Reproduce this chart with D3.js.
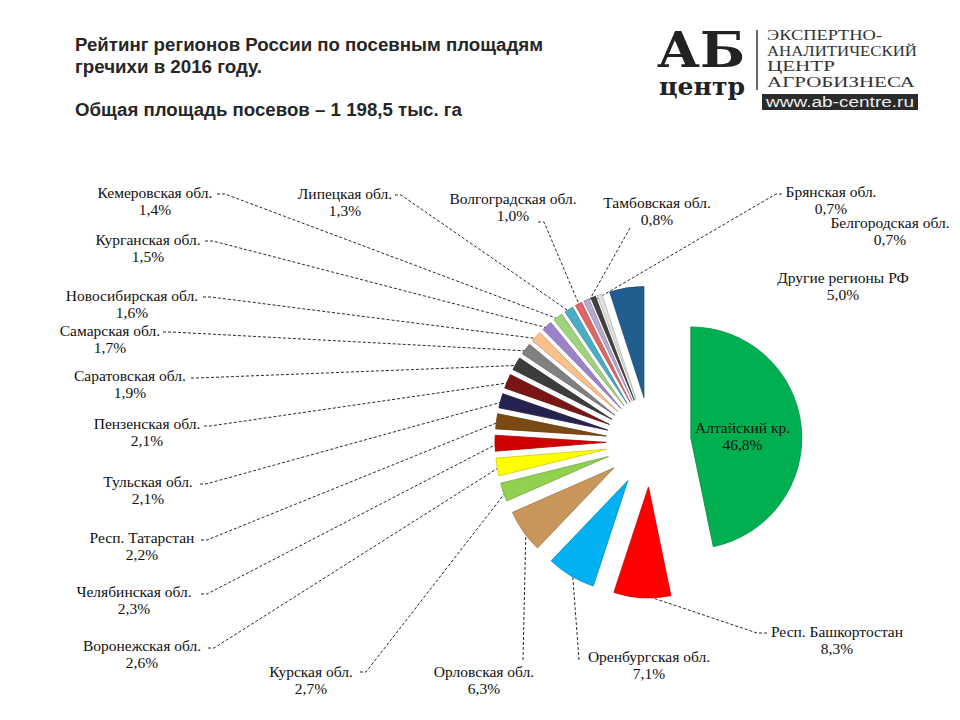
<!DOCTYPE html>
<html><head><meta charset="utf-8">
<script src="https://cdn.jsdelivr.net/npm/d3@7"></script>
<style>
html,body{margin:0;padding:0;background:#fff;}
svg{display:block;}
</style></head>
<body>
<svg id="chart" width="960" height="720"></svg>
<script>
// ---------- DATA ----------
const regions = [
  "Алтайский кр.", "Респ. Башкортостан", "Оренбургская обл.", "Орловская обл.",
  "Курская обл.", "Воронежская обл.", "Челябинская обл.", "Респ. Татарстан",
  "Тульская обл.", "Пензенская обл.", "Саратовская обл.", "Самарская обл.",
  "Новосибирская обл.", "Курганская обл.", "Кемеровская обл.", "Липецкая обл.",
  "Волгоградская обл.", "Тамбовская обл.", "Брянская обл.", "Белгородская обл.",
  "Другие регионы РФ"
];
const shares = [46.8, 8.3, 7.1, 6.3, 2.7, 2.6, 2.3, 2.2, 2.1, 2.1, 1.9, 1.7, 1.6, 1.5, 1.4, 1.3, 1.0, 0.8, 0.7, 0.7, 5.0];
const colors = [
  "#00b050", "#ff0000", "#00b0f0", "#c8965a", "#92d050", "#ffff00", "#d00000",
  "#7b4a14", "#262250", "#7a1515", "#3c3c3c", "#808080", "#f8c08c", "#9c82c8",
  "#a0d47c", "#4bacc6", "#e06666", "#b9a8d0", "#404040", "#e0e0e0", "#215d8f"
];
const titleLines = ["Рейтинг регионов России по посевным площадям", "гречихи в 2016 году."];
const subtitle = "Общая площадь посевов – 1 198,5 тыс. га";
const logoLines = ["ЭКСПЕРТНО-", "АНАЛИТИЧЕСКИЙ", "ЦЕНТР", "АГРОБИЗНЕСА"];
const logoUrl = "www.ab-centre.ru";

// ---------- LAYOUT (label placement: text centre x, baseline y, leader start lx,ly, knee kx) ----------
const labelPos = [
  null,
  [837, 637, 767, 633, -10],
  [649, 662, 579, 660, 0],
  [484, 677, 523, 660, 0],
  [311, 677, 360, 672, 6],
  [142, 651, 208, 648, 6],
  [134, 597, 201, 594, 6],
  [142, 543, 201, 540, 6],
  [148, 487, 200, 484, 6],
  [147, 429, 204, 426, 6],
  [130, 381, 191, 378, 6],
  [110, 336, 163, 332, 8],
  [132, 301, 203, 297, 8],
  [148, 245, 205, 241, 8],
  [155, 198, 217, 194, 8],
  [345, 199, 395, 195, 6],
  [513, 204, 538, 222, 6],
  [657, 208, 630, 228, 0],
  [831, 197, 782, 194, -6],
  [890, 228, null, null, 0],
  [843, 283, null, null, 0]
];

const svg = d3.select("#chart");
const cx = 651, cy = 442, R = 111;
const explode = i => (i === 0 ? 40 : 45);

// ---------- TITLE ----------
const tg = svg.append("g").attr("font-family", "'Liberation Sans', Arial, sans-serif")
  .attr("font-weight", "bold").attr("font-size", 18).attr("fill", "#262626");
const titleW = [468, 187];
titleLines.forEach((t, i) => tg.append("text").attr("x", 75).attr("y", 51 + i * 22)
  .attr("textLength", titleW[i]).attr("lengthAdjust", "spacingAndGlyphs").text(t));
tg.append("text").attr("x", 75).attr("y", 116).attr("textLength", 387)
  .attr("lengthAdjust", "spacingAndGlyphs").text(subtitle);

// ---------- LOGO ----------
const lg = svg.append("g");
lg.append("text").attr("x", 657).attr("y", 67)
  .attr("font-family", "'DejaVu Serif', 'Liberation Serif', serif").attr("font-weight", "bold")
  .attr("font-size", 48).attr("fill", "#222").attr("textLength", 88).attr("lengthAdjust", "spacingAndGlyphs").text("АБ");
lg.append("text").attr("x", 659).attr("y", 95)
  .attr("font-family", "'DejaVu Serif', 'Liberation Serif', serif").attr("font-weight", "bold")
  .attr("font-size", 24).attr("fill", "#222").attr("textLength", 86).attr("lengthAdjust", "spacingAndGlyphs").text("центр");
lg.append("line").attr("x1", 757).attr("x2", 757).attr("y1", 30).attr("y2", 90).attr("stroke", "#333").attr("stroke-width", 1.5);
const logoW = [115, 150, 68, 148];
logoLines.forEach((t, i) => lg.append("text").attr("x", 767).attr("y", 40 + i * 15.5)
  .attr("font-family", "'Liberation Serif', serif").attr("font-size", 14).attr("fill", "#333")
  .attr("textLength", logoW[i]).attr("lengthAdjust", "spacingAndGlyphs").text(t));
lg.append("rect").attr("x", 762).attr("y", 94).attr("width", 156).attr("height", 16).attr("fill", "#2b2b2b");
lg.append("text").attr("x", 766).attr("y", 107).attr("font-family", "'Liberation Sans', Arial, sans-serif")
  .attr("font-size", 14).attr("fill", "#eee").attr("textLength", 148).attr("lengthAdjust", "spacingAndGlyphs").text(logoUrl);

// ---------- PIE ----------
const pie = d3.pie().sort(null).value(d => d).startAngle(0).endAngle(2 * Math.PI);
const arcs = pie(shares);
const arc = d3.arc().innerRadius(0).outerRadius(R);
const mid = d => (d.startAngle + d.endAngle) / 2;
const tipOf = (d, i) => [cx + Math.sin(mid(d)) * explode(i), cy - Math.cos(mid(d)) * explode(i)];

// leader lines (below slices)
const ll = svg.append("g").attr("fill", "none").attr("stroke", "#111").attr("stroke-width", 0.9).attr("stroke-dasharray", "3,2");
arcs.forEach((d, i) => {
  const p = labelPos[i];
  if (!p || p[2] == null) return;
  const t = tipOf(d, i), a = mid(d);
  const end = [t[0] + Math.sin(a) * R * 0.97, t[1] - Math.cos(a) * R * 0.97];
  const pts = [[p[2], p[3]]];
  if (p[4]) pts.push([p[2] + p[4], p[3]]);
  pts.push(end);
  ll.append("path").attr("d", d3.line()(pts));
});

const sg = svg.append("g");
sg.selectAll("path").data(arcs).join("path")
  .attr("transform", (d, i) => `translate(${tipOf(d, i)[0]},${tipOf(d, i)[1]})`)
  .attr("d", arc)
  .attr("fill", (d, i) => colors[i])
  .attr("stroke", (d, i) => d3.color(colors[i]).darker(0.6))
  .attr("stroke-width", 0.8)
  .attr("stroke-linejoin", "round");

// ---------- LABELS ----------
const fmt = v => v.toFixed(1).replace(".", ",") + "%";
const lab = svg.append("g").attr("font-family", "'Liberation Serif', 'Times New Roman', serif")
  .attr("font-size", 15.5).attr("fill", "#111").attr("text-anchor", "middle");
arcs.forEach((d, i) => {
  let x, y;
  if (i === 0) {
    const t = tipOf(d, i), a = mid(d);
    x = t[0] + Math.sin(a) * 52; y = t[1] - Math.cos(a) * 52;
  } else { x = labelPos[i][0]; y = labelPos[i][1]; }
  lab.append("text").attr("x", x).attr("y", y).text(regions[i]);
  lab.append("text").attr("x", x).attr("y", y + 17).text(fmt(shares[i]));
});
</script>
</body></html>
